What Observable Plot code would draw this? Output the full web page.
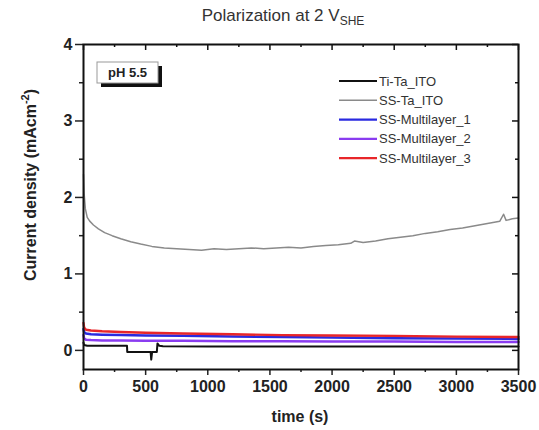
<!DOCTYPE html>
<html>
<head>
<meta charset="utf-8">
<script src="https://cdn.jsdelivr.net/npm/d3@7"></script>
<script src="https://cdn.jsdelivr.net/npm/@observablehq/plot@0.6"></script>
<style>
  html, body { margin: 0; padding: 0; background: #fff; }
  #wrap { position: relative; width: 539px; height: 430px; font-family: "Liberation Sans", Arial, sans-serif; }
  #title { position: absolute; left: 0; width: 566px; top: 6px; text-align: center; font-size: 17px; color: #333; }
  #title sub { font-size: 12px; vertical-align: -4px; line-height: 0; }
</style>
</head>
<body>
<div id="wrap">
  <div id="title">Polarization at 2 V<sub>SHE</sub></div>
</div>
<script>
// ---- data ----
const seriesNames = ["Ti-Ta_ITO", "SS-Ta_ITO", "SS-Multilayer_1", "SS-Multilayer_2", "SS-Multilayer_3"];
const seriesColors = ["#111111", "#8a8a8a", "#2a2ae0", "#8a3cf0", "#e8262a"];

const tiTime = [0, 5, 30, 200, 350, 352, 400, 540, 545, 552, 560, 590, 595, 610, 640, 1000, 2000, 3000, 3500];
const tiVal  = [0.10, 0.07, 0.06, 0.06, 0.06, -0.02, -0.02, -0.02, -0.12, -0.02, -0.02, -0.02, 0.09, 0.06, 0.055, 0.05, 0.05, 0.05, 0.05];

const ssTime = [0, 5, 15, 30, 50, 80, 120, 170, 230, 300, 380, 460, 550, 650, 750, 850, 950, 1050, 1150, 1250, 1350, 1450, 1550, 1650, 1750, 1850, 1950, 2050, 2150, 2180, 2250, 2350, 2450, 2550, 2650, 2750, 2850, 2950, 3050, 3150, 3250, 3350, 3380, 3400, 3450, 3500];
const ssVal  = [2.30, 2.05, 1.85, 1.74, 1.69, 1.64, 1.59, 1.54, 1.50, 1.46, 1.42, 1.39, 1.36, 1.34, 1.33, 1.32, 1.31, 1.33, 1.32, 1.33, 1.34, 1.33, 1.34, 1.35, 1.34, 1.36, 1.37, 1.38, 1.40, 1.43, 1.41, 1.43, 1.46, 1.48, 1.50, 1.53, 1.55, 1.58, 1.60, 1.63, 1.66, 1.69, 1.78, 1.70, 1.72, 1.73];

const mlTime = [0, 5, 20, 60, 150, 300, 500, 800, 1200, 1600, 2000, 2500, 3000, 3500];
const ml1Val = [0.28, 0.24, 0.22, 0.21, 0.205, 0.20, 0.195, 0.19, 0.18, 0.175, 0.17, 0.16, 0.155, 0.15];
const ml2Val = [0.20, 0.16, 0.14, 0.135, 0.13, 0.13, 0.125, 0.125, 0.12, 0.12, 0.115, 0.115, 0.11, 0.11];
const ml3Val = [0.36, 0.30, 0.27, 0.26, 0.25, 0.24, 0.23, 0.22, 0.21, 0.20, 0.195, 0.19, 0.18, 0.175];

const xTicks = [0, 500, 1000, 1500, 2000, 2500, 3000, 3500];
const xMinor = [250, 750, 1250, 1750, 2250, 2750, 3250];
const yTicks = [0, 1, 2, 3, 4];
const yMinor = [0.5, 1.5, 2.5, 3.5];

// ---- build table ----
function rows(name, times, vals) { return times.map((t, i) => ({series: name, t, v: vals[i]})); }
const data = [
  ...rows("SS-Ta_ITO", ssTime, ssVal),
  ...rows("Ti-Ta_ITO", tiTime, tiVal),
  ...rows("SS-Multilayer_2", mlTime, ml2Val),
  ...rows("SS-Multilayer_1", mlTime, ml1Val),
  ...rows("SS-Multilayer_3", mlTime, ml3Val)
];
const colorOf = Object.fromEntries(seriesNames.map((n, i) => [n, seriesColors[i]]));

const W = 539, H = 430;
const mL = 83, mR = 21, mT = 44, mB = 61;
const pxPerX = (W - mL - mR) / 3500;
const pxPerY = (H - mT - mB) / 4.25;

const chart = Plot.plot({
  width: W, height: H,
  marginLeft: mL, marginRight: mR, marginTop: mT, marginBottom: mB,
  style: {fontFamily: "'Liberation Sans', Arial, sans-serif", color: "#222", background: "transparent"},
  x: {domain: [0, 3500]},
  y: {domain: [-0.25, 4]},
  marks: [
    Plot.line(data.filter(d => d.series === "SS-Ta_ITO"), {x: "t", y: "v", stroke: colorOf["SS-Ta_ITO"], strokeWidth: 1.5}),
    Plot.line(data.filter(d => d.series === "Ti-Ta_ITO"), {x: "t", y: "v", stroke: colorOf["Ti-Ta_ITO"], strokeWidth: 2}),
    Plot.line(data.filter(d => d.series === "SS-Multilayer_2"), {x: "t", y: "v", stroke: colorOf["SS-Multilayer_2"], strokeWidth: 2.5}),
    Plot.line(data.filter(d => d.series === "SS-Multilayer_1"), {x: "t", y: "v", stroke: colorOf["SS-Multilayer_1"], strokeWidth: 2.5}),
    Plot.line(data.filter(d => d.series === "SS-Multilayer_3"), {x: "t", y: "v", stroke: colorOf["SS-Multilayer_3"], strokeWidth: 2.4}),
    Plot.axisX({ticks: xTicks, tickSize: 6, tickPadding: 5, tickFormat: d => String(d), fontSize: 16, fontWeight: "bold", label: null, strokeWidth: 1.5}),
    Plot.axisX({ticks: xMinor, tickSize: 3, text: null, label: null, strokeWidth: 1.5}),
    Plot.axisY({ticks: yTicks, tickSize: 8, tickPadding: 3, tickFormat: d => String(d), fontSize: 16, fontWeight: "bold", label: null, strokeWidth: 1.5}),
    Plot.axisY({ticks: yMinor, tickSize: 4, text: null, label: null, strokeWidth: 1.5}),
    // inward mirror ticks on top and right
    Plot.ruleX(xTicks, {x: d => d, y1: 4, y2: 4 - 6 / pxPerY, stroke: "#111", strokeWidth: 1.5}),
    Plot.ruleX(xMinor, {x: d => d, y1: 4, y2: 4 - 3 / pxPerY, stroke: "#111", strokeWidth: 1.5}),
    Plot.ruleY(yTicks, {y: d => d, x1: 3500, x2: 3500 - 6 / pxPerX, stroke: "#111", strokeWidth: 1.5}),
    Plot.ruleY(yMinor, {y: d => d, x1: 3500, x2: 3500 - 3 / pxPerX, stroke: "#111", strokeWidth: 1.5}),
    Plot.frame({stroke: "#111", strokeWidth: 2})
  ]
});

const svg = d3.select(chart);
const font = "'Liberation Sans', Arial, sans-serif";

// y label with superscript
const yl = svg.append("text")
  .attr("transform", "translate(36,185) rotate(-90)")
  .attr("text-anchor", "middle")
  .attr("font-family", font).attr("font-size", 16).attr("font-weight", "bold").attr("fill", "#222");
yl.append("tspan").text("Current density (mAcm");
yl.append("tspan").attr("font-size", 11).attr("dy", -7).text("-2");
yl.append("tspan").attr("dy", 7).text(")");

// x label
svg.append("text")
  .attr("x", 300).attr("y", 422)
  .attr("text-anchor", "middle")
  .attr("font-family", font).attr("font-size", 16).attr("font-weight", "bold").attr("fill", "#222")
  .text("time (s)");

// legend
const lg = svg.append("g");
seriesNames.forEach((name, i) => {
  const y = 81 + i * 19.3;
  lg.append("line").attr("x1", 339).attr("x2", 377).attr("y1", y).attr("y2", y)
    .attr("stroke", colorOf[name]).attr("stroke-width", name === "SS-Ta_ITO" ? 1.5 : 2.2);
  lg.append("text").attr("x", 379).attr("y", y).attr("dy", "0.35em").attr("text-anchor", "start")
    .attr("font-family", font).attr("font-size", 13).attr("fill", "#333").text(name);
});

// pH box
const ph = svg.append("g");
ph.append("rect").attr("x", 101).attr("y", 66).attr("width", 61).attr("height", 21).attr("fill", "#111");
ph.append("rect").attr("x", 97).attr("y", 62).attr("width", 61).attr("height", 21)
  .attr("fill", "#fff").attr("stroke", "#999").attr("stroke-width", 1);
ph.append("text").attr("x", 127.5).attr("y", 72.5).attr("dy", "0.36em").attr("text-anchor", "middle")
  .attr("font-family", font).attr("font-size", 13).attr("font-weight", "bold").attr("fill", "#222").text("pH 5.5");

document.getElementById("wrap").appendChild(chart);
chart.style.position = "absolute";
chart.style.left = "0";
chart.style.top = "0";
</script>
</body>
</html>
